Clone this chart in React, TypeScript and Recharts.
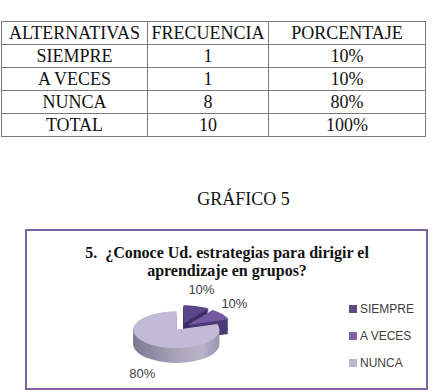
import React from 'react';
import { PieChart, Pie, Cell, Legend } from 'recharts';

// table + chart data
const headers = ['ALTERNATIVAS', 'FRECUENCIA', 'PORCENTAJE'];
const alternativas = ['SIEMPRE', 'A VECES', 'NUNCA'];
const frecuencia = [1, 1, 8];
const porcentaje = ['10%', '10%', '80%'];
const totalLabel = 'TOTAL';
const totalFrecuencia = 10;
const totalPorcentaje = '100%';

const topColors = ['#5A4787', '#7459A3', '#C1BBD7'];
const sideColors = ['#3C2D62', '#4E3A79', 'url(#sideNunca)'];
const legendColors = ['#5F4A83', '#8062A8', '#BAB6CC'];

const data = alternativas.map((name, i) => ({ name, value: frecuencia[i] }));

// fake 3D: the svg gets squashed vertically, the side is stacked copies
const SQUASH = 0.43;
const CX = 181;
const CY = 327;
const R = 43;
const EXPLODE = 8;
const DEPTH = 34;
const depthLevels = Array.from({ length: 12 }, (_, k) => DEPTH - k * 3);
const LABEL_RX = 58;
const LABEL_RY = 36;

const total = frecuencia.reduce((a, b) => a + b, 0);
const offsets = frecuencia.map((v, i) => {
  const before = frecuencia.slice(0, i).reduce((a, b) => a + b, 0);
  const mid = ((90 - (360 * (before + v / 2)) / total) * Math.PI) / 180;
  return { dx: EXPLODE * Math.cos(mid), dy: -EXPLODE * Math.sin(mid) };
});

const serif = '"Liberation Serif", "Times New Roman", serif';
const sans = '"Liberation Sans", Arial, sans-serif';

const renderLabel = (slice: number) => (props: any) => {
  if (props.index !== slice) return null;
  const { cx, cy, midAngle } = props;
  const rad = (midAngle * Math.PI) / 180;
  const x = cx + LABEL_RX * Math.cos(rad);
  let ys = -LABEL_RY * Math.sin(rad);
  if (ys > 0) ys += DEPTH * SQUASH;
  const y = cy + ys / SQUASH;
  return (
    <text
      key={`lbl-${slice}`}
      transform={`translate(${x},${y}) scale(1,${1 / SQUASH})`}
      textAnchor="middle"
      dominantBaseline="central"
      fontSize={13}
      fontFamily={sans}
      fill="#404040"
    >
      {porcentaje[slice]}
    </text>
  );
};

const cellStyle: React.CSSProperties = {
  border: '1px solid #7a7a7a',
  padding: 0,
  textAlign: 'center',
  height: 22,
  lineHeight: '21px',
};

export default function App() {
  return (
    <div style={{ position: 'relative', width: 436, height: 392, overflow: 'hidden', background: '#fff' }}>
      <style>{`body{margin:0}.pie3d .recharts-surface{transform:scaleY(${SQUASH});transform-origin:0 ${CY}px;overflow:visible}`}</style>

      <table
        style={{
          position: 'absolute',
          left: 1,
          top: 21,
          width: 424,
          borderCollapse: 'collapse',
          fontFamily: serif,
          fontSize: 18,
          color: '#111',
          tableLayout: 'fixed',
        }}
      >
        <colgroup>
          <col style={{ width: 146 }} />
          <col style={{ width: 121 }} />
          <col style={{ width: 157 }} />
        </colgroup>
        <tbody>
          <tr>
            {headers.map((h) => (
              <td key={h} style={cellStyle}>{h}</td>
            ))}
          </tr>
          {alternativas.map((a, i) => (
            <tr key={a}>
              <td style={cellStyle}>{a}</td>
              <td style={cellStyle}>{frecuencia[i]}</td>
              <td style={cellStyle}>{porcentaje[i]}</td>
            </tr>
          ))}
          <tr>
            <td style={cellStyle}>{totalLabel}</td>
            <td style={cellStyle}>{totalFrecuencia}</td>
            <td style={cellStyle}>{totalPorcentaje}</td>
          </tr>
        </tbody>
      </table>

      <div style={{ position: 'absolute', left: 0, top: 189, width: 487, textAlign: 'center', fontFamily: serif, fontSize: 18, lineHeight: '20px', color: '#111' }}>
        GRÁFICO 5
      </div>

      <div style={{ position: 'absolute', left: 25, top: 229, width: 403, height: 161, boxSizing: 'border-box', border: '2px solid #8064A2' }} />

      <div style={{ position: 'absolute', left: 25, top: 244, width: 404, textAlign: 'center', fontFamily: serif, fontSize: 16, fontWeight: 'bold', lineHeight: '18px', color: '#111', whiteSpace: 'pre' }}>
        {'5.  ¿Conoce Ud. estrategias para dirigir el'}
        <br />
        {'aprendizaje en grupos?'}
      </div>

      <div className="pie3d" style={{ position: 'absolute', left: 0, top: 0 }}>
        <PieChart width={436} height={392} margin={{ top: 0, right: 0, bottom: 0, left: 0 }}>
          <defs>
            <linearGradient id="sideNunca" x1="0" y1="0" x2="1" y2="0">
              <stop offset="0%" stopColor="#7C788F" />
              <stop offset="55%" stopColor="#ACA7BE" />
              <stop offset="80%" stopColor="#B7B2C7" />
              <stop offset="100%" stopColor="#9A95AD" />
            </linearGradient>
          </defs>
          {depthLevels.map((d) =>
            alternativas.map((_, s) => (
              <Pie
                key={`side-${d}-${s}`}
                data={data}
                dataKey="value"
                nameKey="name"
                cx={CX + offsets[s].dx}
                cy={CY + offsets[s].dy + d}
                outerRadius={R}
                startAngle={90}
                endAngle={-270}
                stroke="none"
                legendType="none"
                isAnimationActive={false}
              >
                {data.map((e, i) => (
                  <Cell key={e.name} fill={i === s ? sideColors[s] : 'none'} />
                ))}
              </Pie>
            ))
          )}
          {alternativas.map((_, s) => (
            <Pie
              key={`top-${s}`}
              data={data}
              dataKey="value"
              nameKey="name"
              cx={CX + offsets[s].dx}
              cy={CY + offsets[s].dy}
              outerRadius={R}
              startAngle={90}
              endAngle={-270}
              stroke="none"
              legendType="none"
              label={renderLabel(s)}
              labelLine={false}
              isAnimationActive={false}
            >
              {data.map((e, i) => (
                <Cell key={e.name} fill={i === s ? topColors[s] : 'none'} />
              ))}
            </Pie>
          ))}
          <Legend
            layout="vertical"
            align="right"
            verticalAlign="top"
            wrapperStyle={{ left: 349, top: 295, right: 'auto', width: 'auto' }}
            content={() => (
              <div>
                {alternativas.map((n, i) => (
                  <div key={n} style={{ display: 'flex', alignItems: 'center', height: 27, fontFamily: sans, fontSize: 12, color: '#404040' }}>
                    <span style={{ display: 'inline-block', width: 8, height: 8, background: legendColors[i], marginRight: 3 }} />
                    <span>{n}</span>
                  </div>
                ))}
              </div>
            )}
          />
        </PieChart>
      </div>
    </div>
  );
}
